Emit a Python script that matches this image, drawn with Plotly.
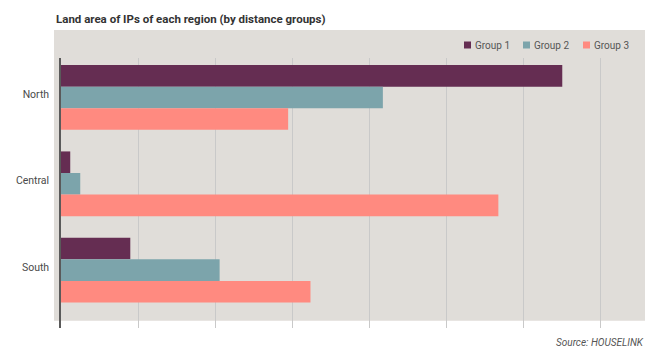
import plotly.graph_objects as go

regions = ["North", "Central", "South"]
group_names = ["Group 1", "Group 2", "Group 3"]
group1 = [651, 12, 90]
group2 = [418, 25, 206]
group3 = [295, 568, 324]
colors = ["#652D52", "#7CA4AB", "#FF8A80"]

fig = go.Figure()
for name, vals, col in zip(group_names, [group1, group2, group3], colors):
    fig.add_trace(go.Bar(
        y=regions, x=vals, name=name, orientation="h",
        marker=dict(color=col, line=dict(width=0)),
    ))

W, H = 665, 356
ml, mr, mt, mb = 61, 20, 58, 28
pw, ph = W - ml - mr, H - mt - mb
step_px = 77.0
xmax = pw / step_px * 100

def px_x(px):
    return (px - ml) / pw

def px_y(py):
    return (H - mb - py) / ph

shapes = [dict(
    type="rect", xref="paper", yref="paper", layer="below",
    x0=px_x(54), x1=1, y0=px_y(320.7), y1=px_y(30),
    fillcolor="#E0DDD9", line=dict(width=0),
)]
annotations = [
    dict(text="<b>Land area of IPs of each region (by distance groups)</b>",
         xref="paper", yref="paper", x=px_x(54), y=px_y(19),
         xanchor="left", yanchor="middle", showarrow=False,
         font=dict(size=11.5, color="#333333")),
    dict(text="<i>Source: HOUSELINK</i>",
         xref="paper", yref="paper", x=px_x(646), y=px_y(342.5),
         xanchor="right", yanchor="middle", showarrow=False,
         font=dict(size=10, color="#555555")),
]

# legend (top right, inside the grey panel)
legend_x = [464, 523, 583]
for lx, name, col in zip(legend_x, group_names, colors):
    shapes.append(dict(
        type="rect", xref="paper", yref="paper", layer="above",
        x0=px_x(lx), x1=px_x(lx + 7), y0=px_y(48.5), y1=px_y(41.5),
        fillcolor=col, line=dict(width=0),
    ))
    annotations.append(dict(
        text=name, xref="paper", yref="paper", x=px_x(lx + 8.5), y=px_y(45),
        xanchor="left", yanchor="middle", showarrow=False,
        font=dict(size=10, color="#555555"),
    ))

fig.update_layout(
    width=W, height=H,
    margin=dict(l=ml, r=mr, t=mt, b=mb),
    paper_bgcolor="white",
    plot_bgcolor="rgba(0,0,0,0)",
    barmode="group",
    bargap=0.25,
    bargroupgap=0,
    font=dict(family="Roboto", size=11, color="#555555"),
    showlegend=False,
    xaxis=dict(
        range=[0, xmax], dtick=100, tick0=0, showticklabels=False,
        showgrid=True, gridcolor="#C9C9C9", gridwidth=1, zeroline=False,
        ticks="",
    ),
    yaxis=dict(
        range=[2.67, -0.457], showgrid=False, zeroline=False,
        showline=True, linecolor="#5A5A5A", linewidth=1.5,
        ticks="outside", ticklen=8, tickcolor="rgba(0,0,0,0)",
        tickfont=dict(size=10.5, color="#4A4A4A"),
        ticklabelshift=3,
    ),
    shapes=shapes,
    annotations=annotations,
)

fig.write_html("out.html", config={"displayModeBar": False},
               post_script="document.body.style.margin='0';")
